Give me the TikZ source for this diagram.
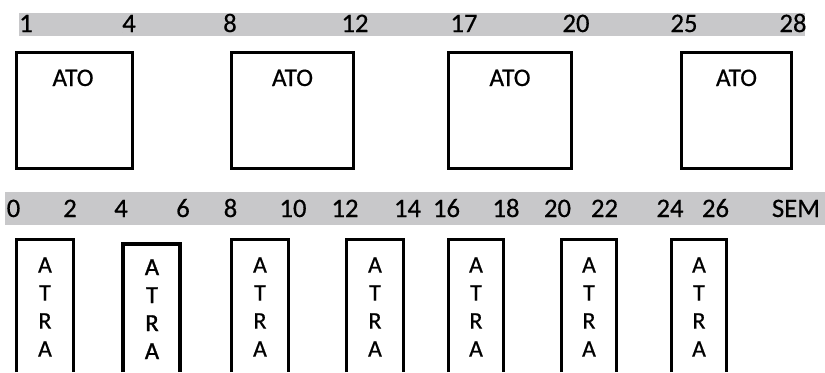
\documentclass[tikz,border=0pt]{standalone}
\usepackage{fontspec}
\setmainfont{Carlito}[FakeBold=0.5]
\newfontfamily\heavyfont{Carlito}[FakeBold=1.2]
\definecolor{bandgray}{RGB}{200,200,202}
\begin{document}
\begin{tikzpicture}[x=0.75pt,y=-0.75pt,
  num/.style={anchor=base, inner sep=0pt, font=\fontsize{20}{24}\selectfont},
  atobox/.style={draw=black, line width=2.25pt, inner sep=0pt, minimum height=87pt},
  atolbl/.style={anchor=base, inner sep=0pt, font=\fontsize{19}{23}\selectfont},
  atrabox/.style={draw=black, line width=2.25pt},
  atrabold/.style={draw=black, line width=3.2pt},
  atratext/.style={anchor=north, inner sep=0pt, align=center, font=\fontsize{18}{21}\selectfont},
  atratextb/.style={anchor=north, inner sep=0pt, align=center, font=\heavyfont\fontsize{18.5}{21}\selectfont}]
\useasboundingbox (0,0) rectangle (825,372);
% gray bands
\fill[bandgray] (19,13) rectangle (805,36);
\fill[bandgray] (5,192) rectangle (825,225);
% top labels
\node[num] (n1) at (26,32) {1};
\node[num] (n4) at (129,32) {4};
\node[num] (n8) at (230,32) {8};
\node[num] (n12) at (355,32) {12};
\node[num] (n17) at (464,32) {17};
\node[num] (n20) at (576,32) {20};
\node[num] (n25) at (684,32) {25};
\node[num] (n28) at (793,32) {28};
% top boxes
\node[atobox, minimum width=87pt] (ato1) at (74.5,110.5) {};
\node[atobox, minimum width=91.5pt] (ato2) at (292.5,110.5) {};
\node[atobox, minimum width=92.25pt] (ato3) at (510,110.5) {};
\node[atobox, minimum width=82.5pt] (ato4) at (736.5,110.5) {};
\node[atolbl] (ato1t) at (73,86) {ATO};
\node[atolbl] (ato2t) at (292.5,86) {ATO};
\node[atolbl] (ato3t) at (510,86) {ATO};
\node[atolbl] (ato4t) at (736.5,86) {ATO};
% bottom labels
\node[num] (m0) at (13.5,217) {0};
\node[num] (m2) at (70,217) {2};
\node[num] (m4) at (121,217) {4};
\node[num] (m6) at (183,217) {6};
\node[num] (m8) at (230.5,217) {8};
\node[num] (m10) at (293,217) {10};
\node[num] (m12) at (345,217) {12};
\node[num] (m14) at (407.5,217) {14};
\node[num] (m16) at (446.5,217) {16};
\node[num] (m18) at (506,217) {18};
\node[num] (m20) at (557.5,217) {20};
\node[num] (m22) at (604.5,217) {22};
\node[num] (m24) at (670,217) {24};
\node[num] (m26) at (715.5,217) {26};
\node[num] (msem) at (796,217) {SEM};
% bottom boxes (open at the bottom)
\draw[atrabox] (16.5,372) |- (73.5,239.5) -- (73.5,372);
\draw[atrabold] (123,372) |- (180,244) -- (180,372);
\draw[atrabox] (231.5,372) |- (288.5,239.5) -- (288.5,372);
\draw[atrabox] (346.5,372) |- (403.5,239.5) -- (403.5,372);
\draw[atrabox] (448.5,372) |- (503.5,239.5) -- (503.5,372);
\draw[atrabox] (561.5,372) |- (616.5,239.5) -- (616.5,372);
\draw[atrabox] (671.5,372) |- (726.5,239.5) -- (726.5,372);
\node[atratext] (a1) at (45,257) {A\\T\\R\\A};
\node[atratextb] (a2) at (152,259) {A\\T\\R\\A};
\node[atratext] (a3) at (260,257) {A\\T\\R\\A};
\node[atratext] (a4) at (375,257) {A\\T\\R\\A};
\node[atratext] (a5) at (476,257) {A\\T\\R\\A};
\node[atratext] (a6) at (589,257) {A\\T\\R\\A};
\node[atratext] (a7) at (699,257) {A\\T\\R\\A};
\end{tikzpicture}
\end{document}
